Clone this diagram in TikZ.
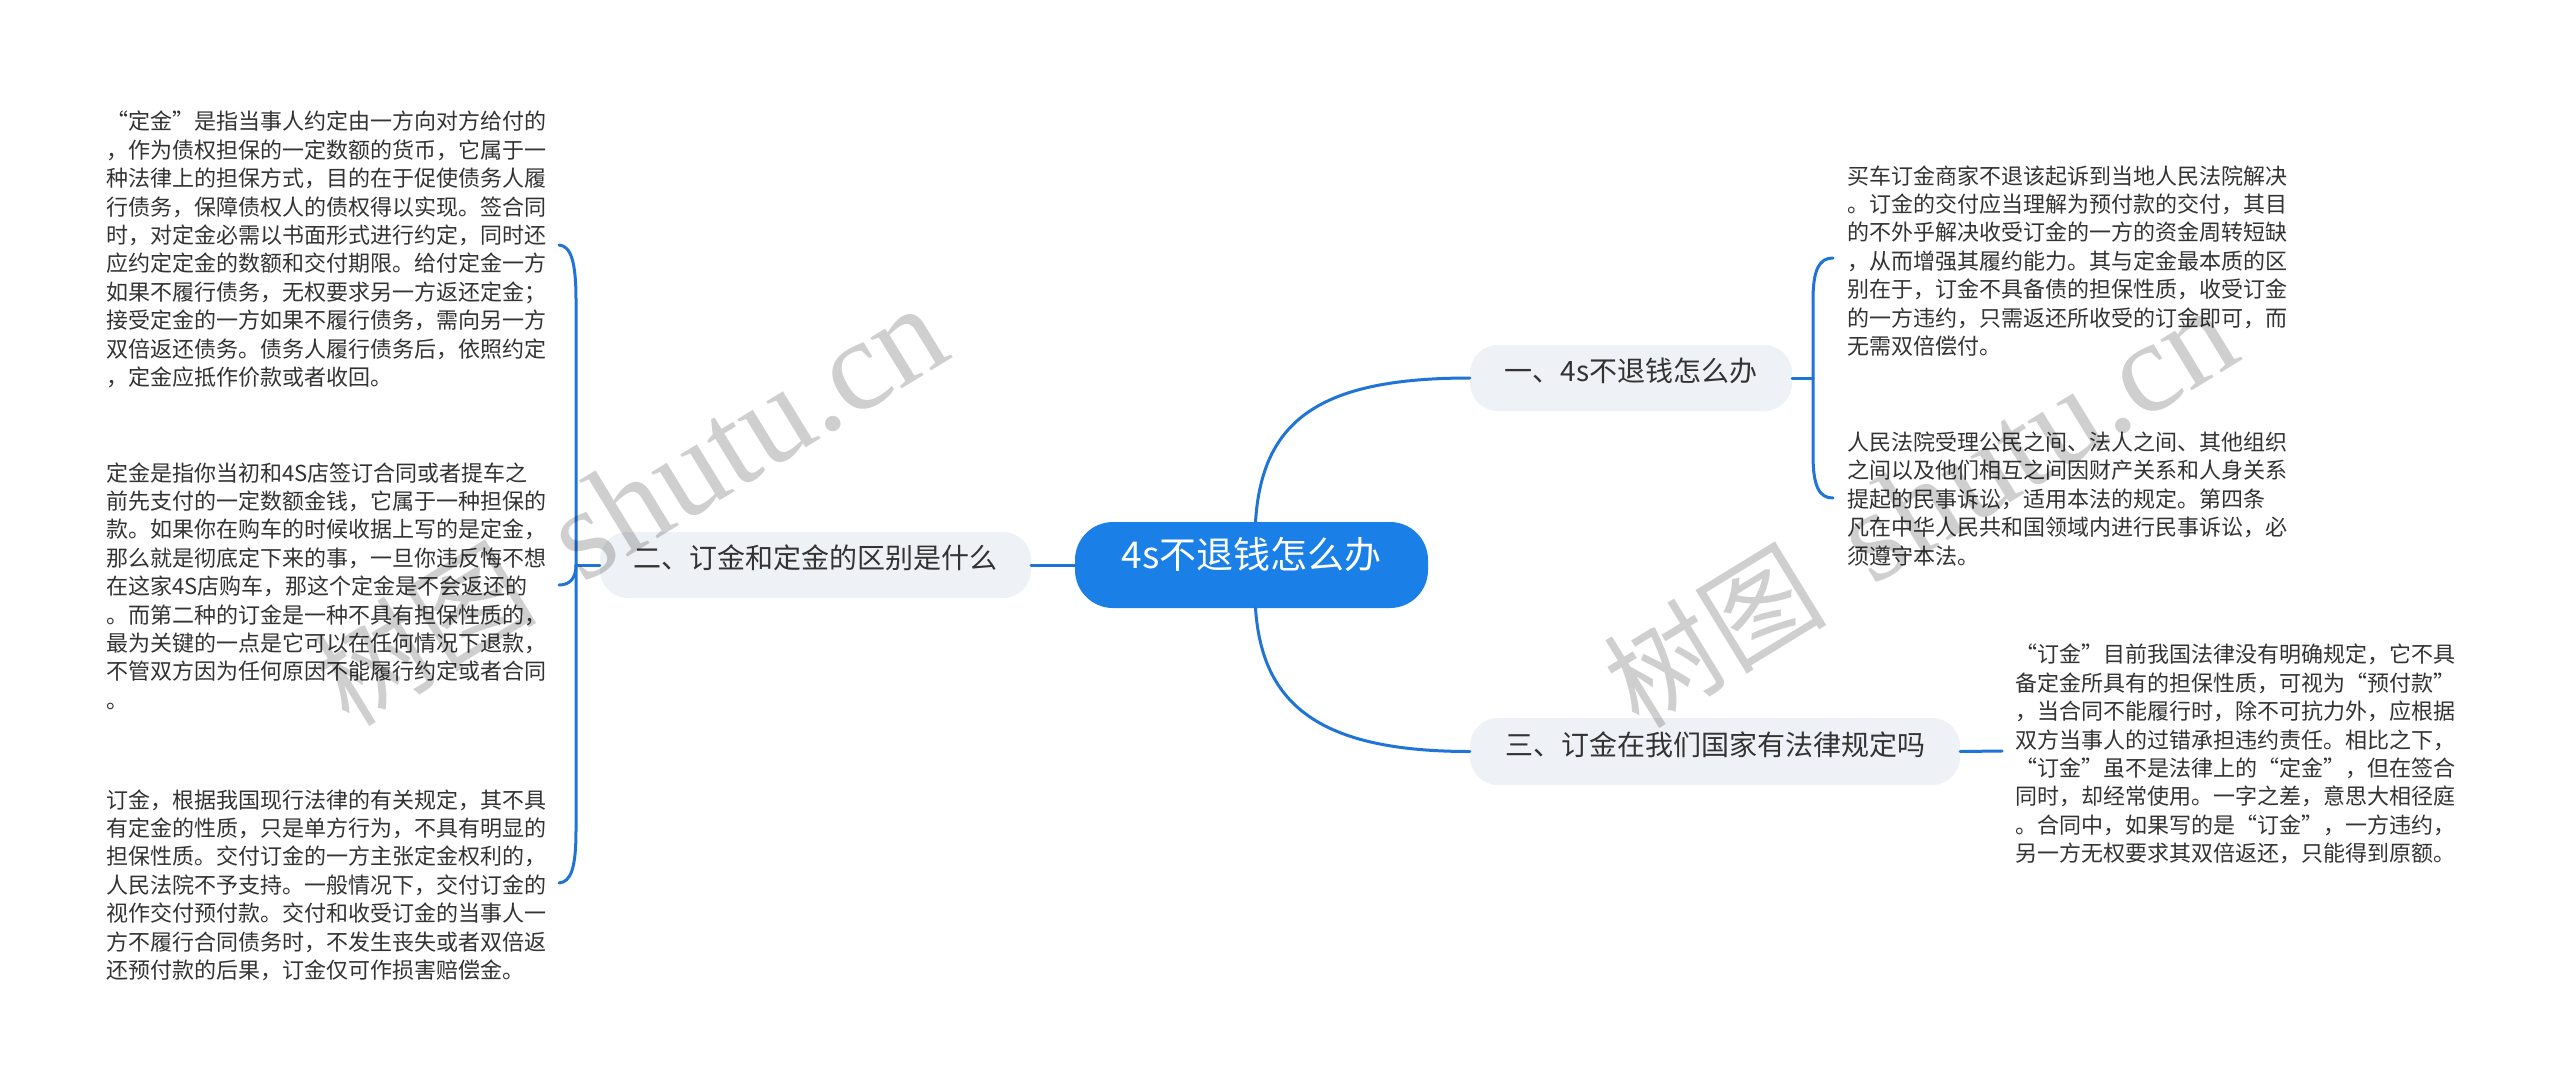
\documentclass[tikz,border=0pt]{standalone}
\usepackage{fontspec}
\setmainfont{Noto Sans CJK SC}
\newfontfamily\cjk{Noto Sans CJK SC}
\newfontfamily\wmserif{Liberation Serif}
\usetikzlibrary{calc}
\definecolor{mainblue}{HTML}{1A7FE6}
\definecolor{lineblue}{HTML}{1F74D6}
\definecolor{branchfill}{HTML}{EEF1F5}
\definecolor{leaftext}{HTML}{333333}
\newcommand{\ls}{\rule[-3.5pt]{0pt}{23.5pt}}
\newcommand{\wmtext}{{\fontsize{112}{112}\selectfont\cjk 树图}\hspace{50pt}{\fontsize{130}{130}\selectfont\wmserif shutu.cn}}
\begin{document}
\begin{tikzpicture}[x=1pt,y=-1pt,
  conn/.style={draw=lineblue, line width=3pt, line cap=round},
  rootbox/.style={fill=mainblue, text=white, rounded corners=38pt, minimum width=353pt, minimum height=86pt, inner sep=0pt, font=\fontsize{37}{44}\selectfont, text height=0.83em, text depth=0.07em},
  branchbox/.style={fill=branchfill, text=leaftext, rounded corners=28pt, minimum height=66pt, inner sep=0pt, font=\fontsize{28}{34}\selectfont, text height=0.83em, text depth=0.07em},
  leaf/.style={anchor=west, inner sep=0pt, align=left, text=leaftext, font=\fontsize{22}{28.4}\selectfont},
  wm/.style={text=black, text opacity=0.19, inner sep=0pt, rotate=31.5}
]
\useasboundingbox[fill=white] (0,0) rectangle (2560,1087);

% main nodes
\node[rootbox] (root) at (1251.5,565) {4s不退钱怎么办};
\node[branchbox, minimum width=322pt] (b1) at (1631,378) {一、4s不退钱怎么办};
\node[branchbox, minimum width=431pt] (b2) at (815.5,565) {二、订金和定金的区别是什么};
\node[branchbox, minimum width=490pt, minimum height=67pt] (b3) at (1715,751.5) {三、订金在我们国家有法律规定吗};

% leaves
\node[leaf] (l1) at (106,249.5) {\ls{}“定金”是指当事人约定由一方向对方给付的\\
，作为债权担保的一定数额的货币，它属于一\\
种法律上的担保方式，目的在于促使债务人履\\
行债务，保障债权人的债权得以实现。签合同\\
时，对定金必需以书面形式进行约定，同时还\\
应约定定金的数额和交付期限。给付定金一方\\
如果不履行债务，无权要求另一方返还定金；\\
接受定金的一方如果不履行债务，需向另一方\\
双倍返还债务。债务人履行债务后，依照约定\\
\ls{}，定金应抵作价款或者收回。};

\node[leaf] (l2) at (106,586.5) {\ls{}定金是指你当初和4S店签订合同或者提车之\\
前先支付的一定数额金钱，它属于一种担保的\\
款。如果你在购车的时候收据上写的是定金，\\
那么就是彻底定下来的事，一旦你违反悔不想\\
在这家4S店购车，那这个定金是不会返还的\\
。而第二种的订金是一种不具有担保性质的，\\
最为关键的一点是它可以在任何情况下退款，\\
不管双方因为任何原因不能履行约定或者合同\\
\ls{}。};

\node[leaf] (l3) at (106,885) {\ls{}订金，根据我国现行法律的有关规定，其不具\\
有定金的性质，只是单方行为，不具有明显的\\
担保性质。交付订金的一方主张定金权利的，\\
人民法院不予支持。一般情况下，交付订金的\\
视作交付预付款。交付和收受订金的当事人一\\
方不履行合同债务时，不发生丧失或者双倍返\\
\ls{}还预付款的后果，订金仅可作损害赔偿金。};

\node[leaf] (r1) at (1847,261) {\ls{}买车订金商家不退该起诉到当地人民法院解决\\
。订金的交付应当理解为预付款的交付，其目\\
的不外乎解决收受订金的一方的资金周转短缺\\
，从而增强其履约能力。其与定金最本质的区\\
别在于，订金不具备债的担保性质，收受订金\\
的一方违约，只需返还所收受的订金即可，而\\
\ls{}无需双倍偿付。};

\node[leaf] (r2) at (1847,499) {\ls{}人民法院受理公民之间、法人之间、其他组织\\
之间以及他们相互之间因财产关系和人身关系\\
提起的民事诉讼，适用本法的规定。第四条\\
凡在中华人民共和国领域内进行民事诉讼，必\\
\ls{}须遵守本法。};

\node[leaf] (r3) at (2015,754) {\ls{}“订金”目前我国法律没有明确规定，它不具\\
备定金所具有的担保性质，可视为“预付款”\\
，当合同不能履行时，除不可抗力外，应根据\\
双方当事人的过错承担违约责任。相比之下，\\
“订金”虽不是法律上的“定金”，但在签合\\
同时，却经常使用。一字之差，意思大相径庭\\
。合同中，如果写的是“订金”，一方违约，\\
\ls{}另一方无权要求其双倍返还，只能得到原额。};

% junctions and connector ends
\coordinate (jL) at (576,565);
\coordinate (tL1) at (559,245);
\coordinate (tL2) at (559,585);
\coordinate (tL3) at (559,883);
\coordinate (jR) at (1813,378);
\coordinate (tR1) at (1833,258);
\coordinate (tR2) at (1833,498);
\coordinate (tR3) at (2002,751);

% connectors from root
\draw[conn] ([xshift=4pt]root.north) .. controls ($([xshift=4pt]root.north)+(6.5,-102)$) and ($(b1.west)+(-150,0)$) .. (b1.west);
\draw[conn] ([xshift=4pt]root.south) .. controls ($([xshift=4pt]root.south)+(6.5,97)$) and ($(b3.west)+(-150,0)$) .. (b3.west);
\draw[conn] (root.west) -- (b2.east);

% left bracket
\draw[conn] (b2.west) -- (jL);
\draw[conn] (jL) -- ($(jL)+(0,-265)$) .. controls ($(jL)+(0,-303)$) and ($(tL1)+(12,1)$) .. (tL1);
\draw[conn] (jL) .. controls ($(jL)+(0,13)$) and ($(tL2)+(11,0)$) .. (tL2);
\draw[conn] (jL) -- ($(jL)+(0,265)$) .. controls ($(jL)+(0,303)$) and ($(tL3)+(12,-1)$) .. (tL3);

% right bracket
\draw[conn] (b1.east) -- (jR);
\draw[conn] (jR) -- ($(jR)+(0,-78)$) .. controls ($(jR)+(0,-110)$) and ($(tR1)+(-13,0)$) .. (tR1);
\draw[conn] (jR) -- ($(jR)+(0,77)$) .. controls ($(jR)+(0,110)$) and ($(tR2)+(-13,0)$) .. (tR2);

% branch 3 leaf
\draw[conn] (b3.east) -- (tR3);

% watermarks (semi-transparent, on top)
\node[wm] (wmL) at (630,506) {\wmtext};
\node[wm] (wmR) at (1920,508) {\wmtext};
\end{tikzpicture}
\end{document}
